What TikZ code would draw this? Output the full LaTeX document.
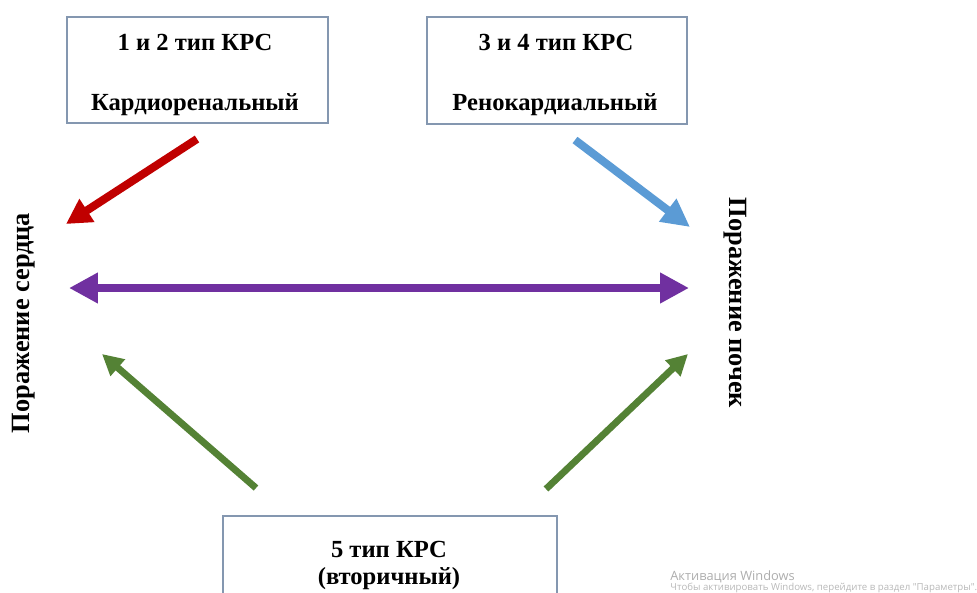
\documentclass[tikz,border=0pt]{standalone}
\usepackage{fontspec}
\setmainfont{Liberation Serif}
\newfontfamily\winfont{Open Sans}
\usetikzlibrary{arrows.meta,positioning}

\definecolor{boxgray}{RGB}{132,151,176}
\definecolor{krsred}{RGB}{192,0,0}
\definecolor{krsblue}{RGB}{91,155,213}
\definecolor{krspurple}{RGB}{112,48,160}
\definecolor{krsgreen}{RGB}{84,130,53}

\begin{document}
\begin{tikzpicture}[x=0.02cm,y=-0.02cm,inner sep=0pt,
	box/.style={draw=boxgray,line width=0.7pt},
	txt/.style={font=\bfseries\fontsize{14}{17}\selectfont,anchor=base},
	side/.style={font=\bfseries\fontsize{15}{18}\selectfont},
	redarrow/.style={draw=krsred,line width=4.6pt,-{Triangle[length=0.5cm,width=0.52cm]}},
	bluearrow/.style={draw=krsblue,line width=4.6pt,-{Triangle[length=0.56cm,width=0.54cm]}},
	purplearrow/.style={draw=krspurple,line width=5pt,{Triangle[length=0.58cm,width=0.58cm]}-{Triangle[length=0.58cm,width=0.58cm]}},
	greenarrow/.style={draw=krsgreen,line width=3.9pt,-{Triangle[length=0.42cm,width=0.42cm]}}]
	\useasboundingbox (0,0) rectangle (977,592);
	\clip (0,0) rectangle (977,592);

	\coordinate (R1) at (197,139);
	\coordinate (R2) at (66,224);
	\coordinate (B1) at (575,140);
	\coordinate (B2) at (690,227);
	\coordinate (P1) at (69,288);
	\coordinate (P2) at (689,288);
	\coordinate (G1) at (256,488);
	\coordinate (G2) at (102,354);
	\coordinate (G3) at (546,489);
	\coordinate (G4) at (688,354);

	\node [box,minimum width=5.22cm,minimum height=2.12cm] (K12) at (197.5,70) {};
	\node [box,minimum width=5.2cm,minimum height=2.14cm] (K34) at (557,70.5) {};
	\node [box,minimum width=6.68cm,minimum height=2.08cm] (K5) at (390,568) {};

	\node [txt] (K12a) at (195,50) {1 и 2 тип КРС};
	\node [txt] (K12b) at (195,110) {Кардиоренальный};
	\node [txt] (K34a) at (556,50) {3 и 4 тип КРС};
	\node [txt] (K34b) at (555,110) {Ренокардиальный};
	\node [txt] (K5a) at (389,557) {5 тип КРС};
	\node [txt] (K5b) at (389,584) {(вторичный)};

	\node [side,rotate=90] (H) at (24,323) {Поражение сердца};
	\node [side,rotate=-90] (N) at (735,303) {Поражение почек};

	\draw [redarrow] (R1) -- (R2);
	\draw [bluearrow] (B1) -- (B2);
	\draw [purplearrow] (P1) -- (P2);
	\draw [greenarrow] (G1) -- (G2);
	\draw [greenarrow] (G3) -- (G4);

	\node [anchor=base west,text=black!32,font=\winfont\fontsize{7.3}{9}\selectfont] (W1) at (670,580) {Активация Windows};
	\node [anchor=base west,text=black!28,font=\winfont\fontsize{5.5}{7}\selectfont] (W2) at (670,590) {Чтобы активировать Windows, перейдите в раздел "Параметры".};

\end{tikzpicture}
\end{document}
